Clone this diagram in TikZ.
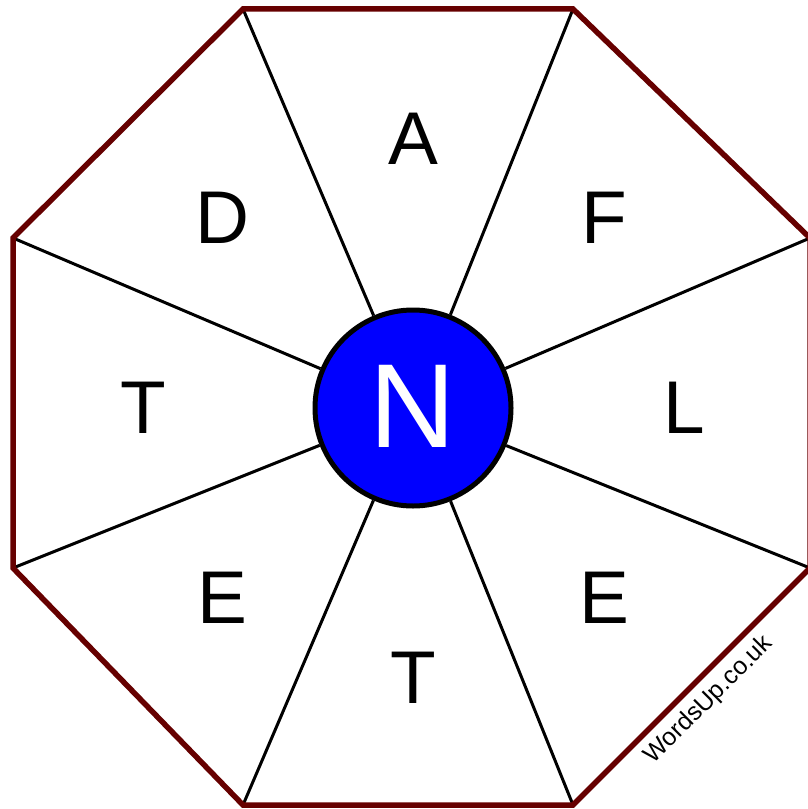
\documentclass[tikz,border=0pt]{standalone}
\usepackage{fontspec}
\setmainfont{Liberation Sans}
\definecolor{rim}{HTML}{660000}
\begin{document}
\begin{tikzpicture}[x=1bp,y=-1bp,
  rimline/.style={draw=rim,line width=5.5bp,line join=miter},
  spoke/.style={draw=black,line width=3bp},
  letter/.style={font=\fontsize{75}{75}\selectfont,inner sep=0pt},
  hub/.style={circle,draw=black,line width=5bp,fill={rgb,255:red,0;green,0;blue,255},minimum size=196bp,inner sep=0pt,font=\fontsize{120}{120}\selectfont,text=white}]
\useasboundingbox (0,0) rectangle (808,809);
\coordinate (v1) at (243,9);
\coordinate (v2) at (573,9);
\coordinate (v3) at (810,238);
\coordinate (v4) at (810,568);
\coordinate (v5) at (573,805);
\coordinate (v6) at (243,805);
\coordinate (v7) at (13,568);
\coordinate (v8) at (13,238);
\node[hub] (c) at (413,408) {};
\foreach \v in {v1,v2,v3,v4,v5,v6,v7,v8} \draw[spoke] (c) -- (\v);
\draw[rimline] (v1) -- (v2) -- (v3) -- (v4) -- (v5) -- (v6) -- (v7) -- (v8) -- cycle;
\node[hub,fill=none,draw=none] (n) at (413,406) {N};
\node[letter] (la) at (413,139) {A};
\node[letter] (lf) at (604,218) {F};
\node[letter] (ll) at (684,408) {L};
\node[letter] (le1) at (604,598) {E};
\node[letter] (lt1) at (413,678) {T};
\node[letter] (le2) at (222,598) {E};
\node[letter] (lt2) at (143,408) {T};
\node[letter] (ld) at (222,218) {D};
\node[rotate=45,font=\fontsize{25}{25}\selectfont,inner sep=0pt] (wm) at (709,700) {WordsUp.co.uk};
\end{tikzpicture}
\end{document}
